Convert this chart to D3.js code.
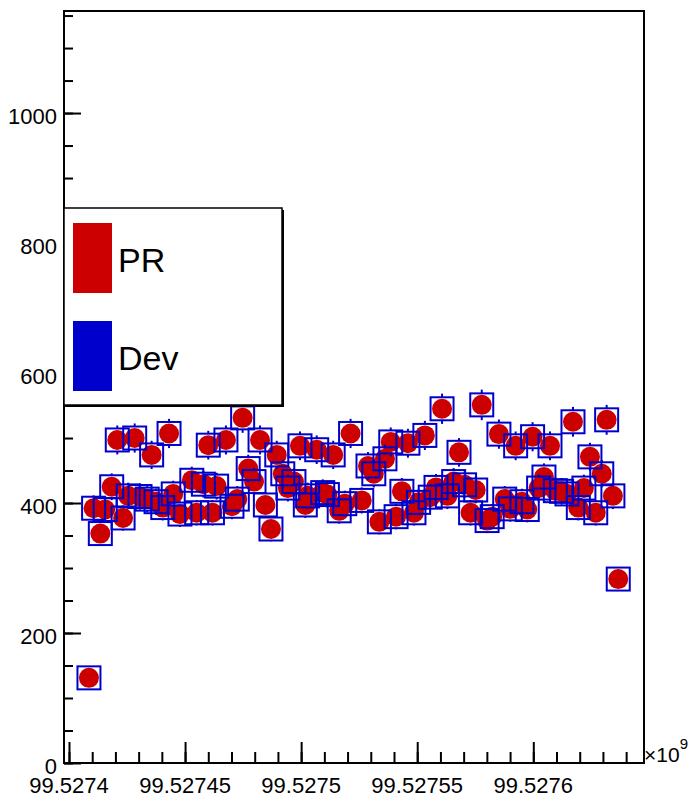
<!DOCTYPE html>
<html>
<head>
<meta charset="utf-8">
<script src="https://cdn.jsdelivr.net/npm/d3@7"></script>
<style>
  html, body { margin: 0; padding: 0; background: #fff; }
  svg { display: block; font-family: "Liberation Sans", Arial, Helvetica, sans-serif; }
</style>
</head>
<body>
<svg id="chart" width="697" height="798"></svg>
<script>
// ---- data (x in units of 1e9) ----
const xValues = [
  99.5274086, 99.5274106, 99.5274135, 99.5274156, 99.5274184, 99.5274208, 99.5274233, 99.5274255,
  99.5274283, 99.5274306, 99.5274337, 99.5274356, 99.5274375, 99.5274404, 99.5274431, 99.5274449,
  99.5274478, 99.5274529, 99.5274550, 99.5274579, 99.5274600, 99.5274618, 99.5274636, 99.5274676,
  99.5274702, 99.5274725, 99.5274748, 99.5274772, 99.5274797, 99.5274823, 99.5274846, 99.5274870,
  99.5274895, 99.5274921, 99.5274943, 99.5274969, 99.5274995, 99.5275018, 99.5275028, 99.5275067,
  99.5275093, 99.5275113, 99.5275138, 99.5275164, 99.5275188, 99.5275213, 99.5275261, 99.5275288,
  99.5275313, 99.5275337, 99.5275361, 99.5275386, 99.5275409, 99.5275434, 99.5275460, 99.5275486,
  99.5275506, 99.5275533, 99.5275556, 99.5275581, 99.5275607, 99.5275630, 99.5275657, 99.5275680,
  99.5275704, 99.5275730, 99.5275752, 99.5275778, 99.5275801, 99.5275823, 99.5275852, 99.5275877,
  99.5275901, 99.5275924, 99.5275951, 99.5275974, 99.5275997, 99.5276023, 99.5276046, 99.5276072,
  99.5276095, 99.5276122, 99.5276145, 99.5276171, 99.5276194, 99.5276218, 99.5276244, 99.5276269,
  99.5276295, 99.5276316, 99.5276343, 99.5276366
];
const prValues = [
  131, 392, 353, 390, 425, 497, 377, 411, 500, 410, 406, 474, 402, 393, 507, 414,
  383, 435, 385, 429, 489, 385, 426, 497, 395, 406, 531, 453, 433, 497, 397, 360,
  474, 445, 423, 433, 488, 397, 411, 482, 416, 413, 474, 388, 399, 507, 404, 457,
  445, 371, 468, 494, 379, 418, 492, 385, 401, 504, 409, 424, 545, 411, 433, 478,
  428, 385, 420, 551, 373, 379, 506, 406, 391, 488, 402, 390, 502, 423, 440, 488,
  419, 418, 414, 525, 393, 423, 471, 385, 445, 528, 411, 283
];
const devValues = [
  131, 392, 353, 390, 425, 497, 377, 411, 500, 410, 406, 474, 402, 393, 507, 414,
  383, 435, 385, 429, 489, 385, 426, 497, 395, 406, 531, 453, 433, 497, 397, 360,
  474, 445, 423, 433, 488, 397, 411, 482, 416, 413, 474, 388, 399, 507, 404, 457,
  445, 371, 468, 494, 379, 418, 492, 385, 401, 504, 409, 424, 545, 411, 433, 478,
  428, 385, 420, 551, 373, 379, 506, 406, 391, 488, 402, 390, 502, 423, 440, 488,
  419, 418, 414, 525, 393, 423, 471, 385, 445, 528, 411, 283
];
const devErrors = [
  11.4, 19.8, 18.8, 19.7, 20.6, 22.3, 19.4, 20.3, 22.4, 20.2, 20.1, 21.8, 20.0, 19.8, 22.5, 20.3,
  19.6, 20.9, 19.6, 20.7, 22.1, 19.6, 20.6, 22.3, 19.9, 20.1, 23.0, 21.3, 20.8, 22.3, 19.9, 19.0,
  21.8, 21.1, 20.6, 20.8, 22.1, 19.9, 20.3, 22.0, 20.4, 20.3, 21.8, 19.7, 20.0, 22.5, 20.1, 21.4,
  21.1, 19.3, 21.6, 22.2, 19.5, 20.4, 22.2, 19.6, 20.0, 22.4, 20.2, 20.6, 23.3, 20.3, 20.8, 21.9,
  20.7, 19.6, 20.5, 23.5, 19.3, 19.5, 22.5, 20.1, 19.8, 22.1, 20.0, 19.7, 22.4, 20.6, 21.0, 22.1,
  20.5, 20.4, 20.3, 22.9, 19.8, 20.6, 21.7, 19.6, 21.1, 23.0, 20.3, 16.8
];
const seriesNames = ["PR", "Dev"];
const seriesColors = ["#cc0000", "#0000cc"];
const xTickValues = [99.5274, 99.52745, 99.5275, 99.52755, 99.5276];
const xTickLabels = ["99.5274", "99.52745", "99.5275", "99.52755", "99.5276"];
const yTickValues = [0, 200, 400, 600, 800, 1000];
const yTickLabels = ["0", "200", "400", "600", "800", "1000"];
const xDomain = [99.52739785, 99.52764769];
const yDomain = [0, 1157];

// ---- layout ----
const frame = { left: 64, right: 644, top: 11, bottom: 763 };
const svg = d3.select("#chart");
svg.append("rect").attr("width", 697).attr("height", 798).attr("fill", "#fff");

const x = d3.scaleLinear().domain(xDomain).range([frame.left, frame.right]);
const y = d3.scaleLinear().domain(yDomain).range([frame.bottom, frame.top]);

// ---- points: PR (filled circles) ----
const gPts = svg.append("g");
gPts.selectAll("circle.pr")
  .data(xValues.map((xv, i) => ({ x: xv, v: prValues[i] })))
  .join("circle")
  .attr("class", "pr")
  .attr("cx", d => x(d.x))
  .attr("cy", d => y(d.v))
  .attr("r", 10)
  .attr("fill", seriesColors[0]);

// ---- points: Dev (open squares with error bars) ----
const devData = xValues.map((xv, i) => ({ x: xv, v: devValues[i], e: devErrors[i] }));
const half = 11.5;
const gDev = svg.append("g");
gDev.selectAll("line.eup")
  .data(devData.filter(d => y(d.v) - y(d.v + d.e) > half))
  .join("line")
  .attr("x1", d => x(d.x)).attr("x2", d => x(d.x))
  .attr("y1", d => y(d.v) - half).attr("y2", d => y(d.v + d.e))
  .attr("stroke", seriesColors[1]).attr("stroke-width", 2);
gDev.selectAll("line.edn")
  .data(devData.filter(d => y(d.v - d.e) - y(d.v) > half))
  .join("line")
  .attr("x1", d => x(d.x)).attr("x2", d => x(d.x))
  .attr("y1", d => y(d.v) + half).attr("y2", d => y(d.v - d.e))
  .attr("stroke", seriesColors[1]).attr("stroke-width", 2);
gDev.selectAll("rect.dev")
  .data(devData)
  .join("rect")
  .attr("class", "dev")
  .attr("x", d => x(d.x) - half)
  .attr("y", d => y(d.v) - half)
  .attr("width", half * 2)
  .attr("height", half * 2)
  .attr("fill", "none")
  .attr("stroke", seriesColors[1])
  .attr("stroke-width", 2);

// ---- frame ----
svg.append("rect")
  .attr("x", frame.left).attr("y", frame.top)
  .attr("width", frame.right - frame.left).attr("height", frame.bottom - frame.top)
  .attr("fill", "none").attr("stroke", "#000").attr("stroke-width", 2);

// ---- x axis ----
const xMinor = d3.range(0, 25).map(i => 99.5274 + i * 0.00001).filter(v => x(v) <= frame.right && x(v) >= frame.left);
const xAxisMinor = d3.axisTop(x).tickValues(xMinor).tickSize(11).tickFormat("");
const xAxisMajor = d3.axisTop(x).tickValues(xTickValues).tickSize(21).tickFormat("");
[xAxisMinor, xAxisMajor].forEach(ax => {
  const g = svg.append("g").attr("transform", `translate(0,${frame.bottom})`).call(ax);
  g.select(".domain").remove();
  g.selectAll(".tick line").attr("stroke", "#000").attr("stroke-width", 2);
});
svg.append("g").selectAll("text")
  .data(xTickValues)
  .join("text")
  .attr("x", d => x(d))
  .attr("y", 793)
  .attr("text-anchor", "middle")
  .attr("font-size", 22)
  .attr("fill", "#000")
  .text((d, i) => xTickLabels[i]);

// exponent
const expT = svg.append("text").attr("x", 644).attr("y", 762).attr("font-size", 21).attr("fill", "#000");
expT.append("tspan").text("\u00d710");
expT.append("tspan").attr("dy", -13).attr("font-size", 15).text("9");

// ---- y axis ----
const yMinor = d3.range(0, 24).map(i => i * 50).filter(v => y(v) >= frame.top);
const yAxisMinor = d3.axisRight(y).tickValues(yMinor).tickSize(9).tickFormat("");
const yAxisMajor = d3.axisRight(y).tickValues(yTickValues).tickSize(17).tickFormat("");
[yAxisMinor, yAxisMajor].forEach(ax => {
  const g = svg.append("g").attr("transform", `translate(${frame.left},0)`).call(ax);
  g.select(".domain").remove();
  g.selectAll(".tick line").attr("stroke", "#000").attr("stroke-width", 2);
});
svg.append("g").selectAll("text")
  .data(yTickValues)
  .join("text")
  .attr("x", 57)
  .attr("y", d => y(d) + 11)
  .attr("text-anchor", "end")
  .attr("font-size", 22)
  .attr("fill", "#000")
  .text((d, i) => yTickLabels[i]);

// ---- legend ----
const leg = svg.append("g");
leg.append("rect")
  .attr("x", 66).attr("y", 210).attr("width", 218).attr("height", 197)
  .attr("fill", "#000");
leg.append("rect")
  .attr("x", 64).attr("y", 208).attr("width", 218).attr("height", 197)
  .attr("fill", "#fff").attr("stroke", "#000").attr("stroke-width", 1.5);
seriesNames.forEach((name, i) => {
  leg.append("rect")
    .attr("x", 73).attr("y", 223 + i * 98).attr("width", 39).attr("height", 70)
    .attr("fill", seriesColors[i]);
  leg.append("text")
    .attr("x", 118).attr("y", 272 + i * 97.5)
    .attr("font-size", 34).attr("fill", "#000")
    .text(name);
});
</script>
</body>
</html>
